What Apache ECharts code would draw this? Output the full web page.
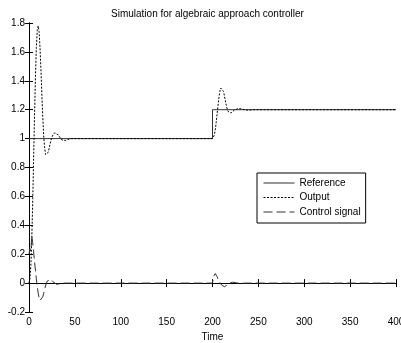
<!DOCTYPE html>
<html>
<head>
<meta charset="utf-8">
<script src="https://cdn.jsdelivr.net/npm/echarts@6/dist/echarts.min.js"></script>
<style>
html,body{margin:0;padding:0;background:#fff;}
#chart{width:401px;height:343px;}
</style>
</head>
<body>
<div id="chart"></div>
<script>
var titleText = 'Simulation for algebraic approach controller';
var xName = 'Time';
var seriesNames = ['Reference', 'Output', 'Control signal'];

var refT = [0, 200, 200, 400];
var refY = [1, 1, 1.2, 1.2];

var outT = [0,1,2,3,4,5,6,7,8,9,10,11,12,13,14,15,16,17,18,19,20,21,22,24,26,28,30,32,34,36,38,40,42,45,
            200,201,202,203,204,205,206,207,208,209,210,211,212,213,214,215,216,217,218,219,220,221,222,224,226,228,230,232,234,236,238,240,242,245,400];
var outY = [0,0.03,0.12,0.3,0.55,0.85,1.15,1.42,1.63,1.75,1.78,1.74,1.63,1.48,1.31,1.15,1.02,0.94,0.89,0.88,0.885,0.905,0.935,0.99,1.025,1.04,1.04,1.025,1.005,0.99,0.985,0.987,0.993,1.0,
            1.0,1.006,1.024,1.06,1.11,1.17,1.23,1.284,1.326,1.35,1.356,1.348,1.326,1.296,1.262,1.23,1.204,1.188,1.178,1.176,1.177,1.181,1.187,1.198,1.205,1.208,1.208,1.205,1.201,1.198,1.197,1.197,1.199,1.2,1.2];

var ctrlT = [0,1,2,3,4,5,6,7,8,9,10,11,12,13,14,15,16,17,18,19,20,22,24,26,28,30,33,36,
             200,201,202,203,204,205,206,207,208,209,210,211,212,213,214,215,216,217,218,219,220,222,224,226,228,230,233,236,400];
var ctrlY = [0.2,0.24,0.22,0.33,0.28,0.22,0.15,0.09,0.03,-0.02,-0.07,-0.1,-0.12,-0.125,-0.115,-0.095,-0.07,-0.045,-0.02,0,0.015,0.028,0.025,0.01,-0.003,-0.008,-0.005,0,
             0,0.044,0.05,0.066,0.055,0.044,0.03,0.018,0.006,-0.004,-0.014,-0.02,-0.024,-0.025,-0.023,-0.019,-0.014,-0.009,-0.004,0,0.003,0.006,0.005,0.002,-0.001,-0.002,-0.001,0,0];

function zip(a, b) { return a.map(function (v, i) { return [v, b[i]]; }); }

var FONT = 'Liberation Sans, Arial, sans-serif';
var chart = echarts.init(document.getElementById('chart'), null, {renderer: 'canvas'});
var axisCommon = {
  axisLine: {show: true, lineStyle: {color: '#000', width: 1}},
  axisTick: {show: true, inside: true, length: 4, lineStyle: {color: '#000'}},
  splitLine: {show: false}
};
chart.setOption({
  animation: false,
  backgroundColor: '#fff',
  title: {
    text: titleText, left: 106, top: 4,
    textStyle: {fontFamily: FONT, fontSize: 10, fontWeight: 'normal', color: '#000'}
  },
  grid: {left: 29, right: 5, top: 23, bottom: 31, containLabel: false, outerBoundsMode: 'none'},
  legend: {
    orient: 'vertical', left: 257, top: 173,
    padding: [5, 5, 6, 6], itemGap: 4.5, itemWidth: 31, itemHeight: 10,
    backgroundColor: '#fff', borderColor: '#000', borderWidth: 1, borderRadius: 0,
    itemStyle: {opacity: 0},
    lineStyle: {width: 1},
    textStyle: {fontFamily: FONT, fontSize: 10, color: '#000'},
    data: seriesNames
  },
  xAxis: [
    Object.assign({type: 'value', min: 0, max: 400, interval: 50, position: 'bottom',
      name: xName, nameLocation: 'middle', nameGap: 17,
      nameTextStyle: {fontFamily: FONT, fontSize: 10, color: '#000'},
      axisLabel: {fontFamily: FONT, fontSize: 10, color: '#000', margin: 5}}, axisCommon),
    Object.assign({type: 'value', min: 0, max: 400, interval: 50, position: 'top',
      axisLabel: {show: false}}, axisCommon)
  ],
  yAxis: [
    Object.assign({type: 'value', min: -0.2, max: 1.8, interval: 0.2, position: 'left',
      axisLabel: {fontFamily: FONT, fontSize: 10, color: '#000', margin: 4}}, axisCommon),
    Object.assign({type: 'value', min: -0.2, max: 1.8, interval: 0.2, position: 'right',
      axisLabel: {show: false}}, axisCommon)
  ],
  series: [
    {name: seriesNames[0], type: 'line', symbol: 'none', data: zip(refT, refY),
     lineStyle: {color: '#333', width: 1, type: 'solid'}, itemStyle: {color: '#333'}},
    {name: seriesNames[1], type: 'line', symbol: 'none', data: zip(outT, outY),
     lineStyle: {color: '#000', width: 1, type: [2, 1.5]}, itemStyle: {color: '#000'}},
    {name: seriesNames[2], type: 'line', symbol: 'none', data: zip(ctrlT, ctrlY),
     lineStyle: {color: '#333', width: 1, type: [9, 4]}, itemStyle: {color: '#333'}}
  ]
});
</script>
</body>
</html>
